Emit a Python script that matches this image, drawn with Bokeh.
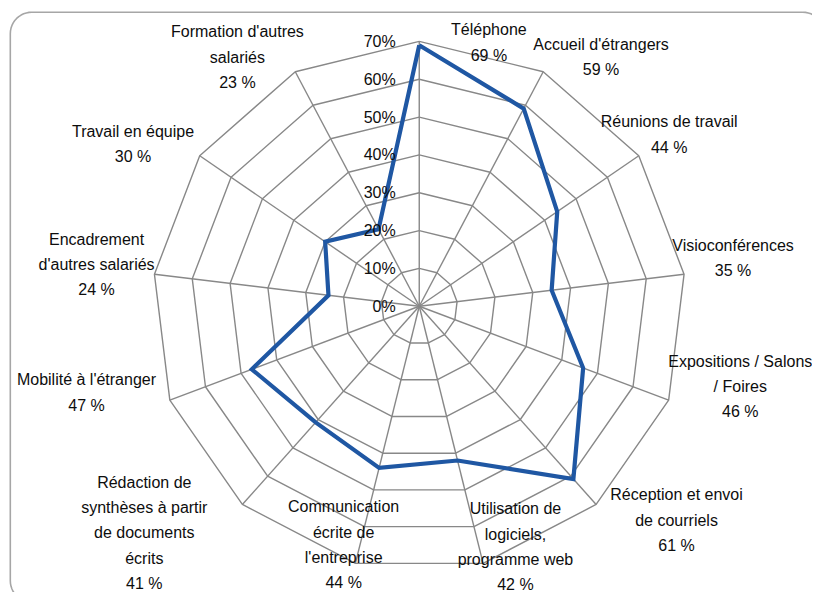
import math
from bokeh.plotting import figure
from bokeh.models import ColumnDataSource, Range1d
from bokeh.core.properties import value
from bokeh.embed import file_html
from bokeh.resources import INLINE

# ---------------- data ----------------
categories = [
    "Téléphone", "Accueil d'étrangers", "Réunions de travail", "Visioconférences",
    "Expositions / Salons / Foires", "Réception et envoi de courriels",
    "Utilisation de logiciels, programme web", "Communication écrite de l'entreprise",
    "Rédaction de synthèses à partir de documents écrits", "Mobilité à l'étranger",
    "Encadrement d'autres salariés", "Travail en équipe", "Formation d'autres salariés",
]
label_lines = [
    ["Téléphone"], ["Accueil d'étrangers"], ["Réunions de travail"], ["Visioconférences"],
    ["Expositions / Salons", "/ Foires"], ["Réception et envoi", "de courriels"],
    ["Utilisation de", "logiciels,", "programme web"], ["Communication", "écrite de", "l'entreprise"],
    ["Rédaction de", "synthèses à partir", "de documents", "écrits"], ["Mobilité à l'étranger"],
    ["Encadrement", "d'autres salariés"], ["Travail en équipe"], ["Formation d'autres", "salariés"],
]
values = [69, 59, 44, 35, 46, 61, 42, 44, 41, 47, 24, 30, 23]
tick_levels = [0, 10, 20, 30, 40, 50, 60, 70]
tick_labels = ["0%", "10%", "20%", "30%", "40%", "50%", "60%", "70%"]

# ---------------- layout ----------------
W, H = 812, 592              # canvas
RW, RH = 828, 608            # design space
KX, KY = W / RW, H / RH
CX, CY = 427, 314            # centre in design px
R70 = 272                    # design px radius of the 70% ring
U = R70 / 70.0               # design px per percent
RMAX = 70

label_nudge = [(71, 1), (59, -15), (31, -22), (50, -17), (73, -14), (82, 16), (33, -17),
               (-12, -19), (-100, 29), (-85, -8), (-59, -10), (-68, -12), (-59, -15)]
LINE_GAP = 26
FONT = "Liberation Sans"
FS = "16px"
TXT = "#0d0d0d"

n = len(categories)
angles = [2 * math.pi * i / n for i in range(n)]

def pt(r, a):
    return r * math.sin(a), r * math.cos(a)

def design_to_data(X, Y):
    return (X - CX) / U, (CY - Y) / U

p = figure(width=W, height=H, output_backend="svg", toolbar_location=None,
           x_range=Range1d(-CX / U, (RW - CX) / U),
           y_range=Range1d(-(RH - CY) / U, CY / U),
           min_border=0)
p.axis.visible = False
p.grid.visible = False
p.outline_line_color = None
p.background_fill_color = "white"
p.border_fill_color = "white"

# chart-area border: rounded rectangle running off the right and bottom edges
BL, BT, BR, BB, RAD = 10, 12, 840, 618, 22
corners = [(BR - RAD, BT + RAD, 90, 0), (BR - RAD, BB - RAD, 0, -90),
           (BL + RAD, BB - RAD, -90, -180), (BL + RAD, BT + RAD, 180, 90)]
bx, by = [], []
for ccx, ccy, a0, a1 in corners:
    for s in range(13):
        t = math.radians(a0 + (a1 - a0) * s / 12)
        X, Y = ccx + RAD * math.cos(t), ccy - RAD * math.sin(t)
        dx, dy = design_to_data(X, Y)
        bx.append(dx); by.append(dy)
bx.append(bx[0]); by.append(by[0])
p.line(bx, by, line_color="#a6a6a6", line_width=1.6)

# grid polygons and spokes
gx, gy = [], []
for lvl in tick_levels[1:]:
    xs = [pt(lvl, a)[0] for a in angles] + [pt(lvl, angles[0])[0]]
    ys = [pt(lvl, a)[1] for a in angles] + [pt(lvl, angles[0])[1]]
    gx.append(xs); gy.append(ys)
for a in angles:
    x1, y1 = pt(RMAX, a)
    gx.append([0, x1]); gy.append([0, y1])
p.multi_line(gx, gy, line_color="#888888", line_width=1.4)

# series
sx = [pt(v, a)[0] for v, a in zip(values, angles)]
sy = [pt(v, a)[1] for v, a in zip(values, angles)]
p.line(sx + sx[:1], sy + sy[:1], line_color="#1F57A3", line_width=4.2, line_join="miter")

# tick labels
p.text(x=[0] * len(tick_levels), y=tick_levels, text=tick_labels, x_offset=-24 * KX,
       text_align="right", text_baseline="middle", text_font=value(FONT),
       text_font_size=FS, text_color=TXT)

# category labels
lx, ly, lt, lxo, lyo = [], [], [], [], []
for i in range(n):
    ox, oy = pt(RMAX, angles[i])
    lines = label_lines[i] + [f"{values[i]} %"]
    m = len(lines)
    for k, t in enumerate(lines):
        lx.append(ox); ly.append(oy); lt.append(t)
        lxo.append(label_nudge[i][0] * KX)
        lyo.append((label_nudge[i][1] + (k - (m - 1) / 2) * LINE_GAP) * KY)
src = ColumnDataSource(dict(x=lx, y=ly, text=lt, xo=lxo, yo=lyo))
p.text(x="x", y="y", text="text", x_offset="xo", y_offset="yo", source=src,
       text_align="center", text_baseline="middle", text_font=value(FONT),
       text_font_size=FS, text_color=TXT)

open("out.html", "w").write(file_html(p, INLINE))
